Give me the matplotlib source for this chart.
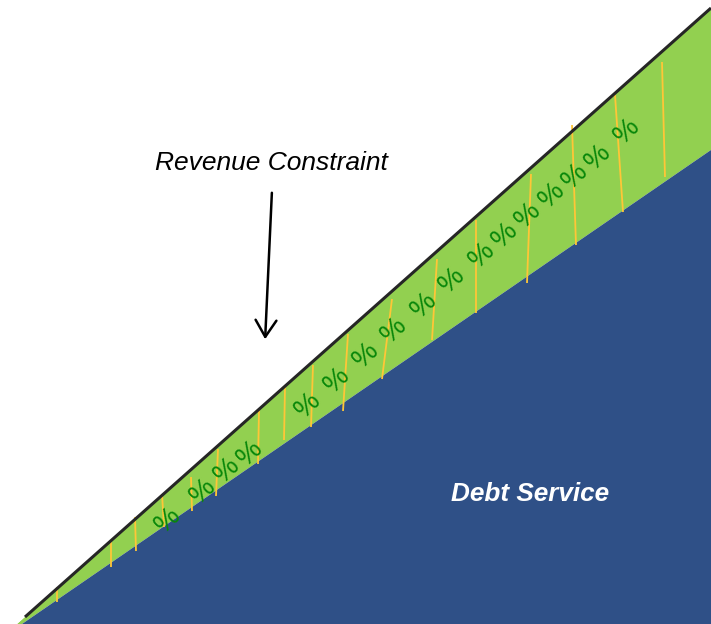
import matplotlib
matplotlib.use("Agg")
import matplotlib.pyplot as plt

plt.rcParams['font.family'] = ['Liberation Sans', 'DejaVu Sans']

W, H = 711, 624

# Revenue constraint line (lower-left to upper-right)
revenue_x = [17, 711]
revenue_y = [0, 616]

# Top edge of the debt service area
debt_x = [22, 711]
debt_y = [0, 474]

# Yellow dividers inside the band: top and bottom end points
div_top_x = [57, 111, 135, 162, 191, 218, 259, 285, 313, 348, 392, 437, 476, 531, 572, 615, 662]
div_top_y = [37, 82, 107, 130, 147, 175, 214, 237, 259, 290, 325, 365, 404, 450, 499, 529, 562]
div_bot_x = [57, 111, 136, 164, 192, 216, 258, 284, 311, 343, 382, 432, 476, 527, 576, 623, 665]
div_bot_y = [22, 57, 73, 97, 113, 128, 160, 184, 197, 213, 245, 284, 311, 341, 379, 412, 447]

# Percent markers along the band
pct_x = [168, 203, 227, 250, 308, 337, 366, 394, 424, 452, 482, 505, 528, 552, 575, 598, 627]
pct_y = [104, 133, 154, 171, 219, 244, 269, 294, 319, 344, 369, 389, 409, 429, 448, 467, 493]

fig = plt.figure(figsize=(W / 100, H / 100), dpi=100)
ax = fig.add_axes([0, 0, 1, 1])
ax.set_xlim(0, W)
ax.set_ylim(0, H)
ax.axis('off')

green = '#92D050'
blue = '#2F5087'

# Green band between the revenue line and the debt service edge
ax.fill([revenue_x[0], revenue_x[1], W, debt_x[1], debt_x[0]],
        [revenue_y[0], revenue_y[1], H, debt_y[1], debt_y[0]],
        color=green, lw=0, zorder=1)
# White area above the revenue line
ax.fill([revenue_x[0], revenue_x[1], W, 0, 0],
        [revenue_y[0], revenue_y[1], H, H, 0],
        color='white', lw=0, zorder=1.5)
# Debt service area
ax.fill([debt_x[0], debt_x[1], W], [debt_y[0], debt_y[1], 0],
        color=blue, lw=0, zorder=2)

# Yellow dividers
for x0, y0, x1, y1 in zip(div_top_x, div_top_y, div_bot_x, div_bot_y):
    ax.plot([x0, x1], [y0, y1], color='#FFC637', lw=1.3, zorder=3,
            solid_capstyle='butt')

# Percent signs
for x, y in zip(pct_x, pct_y):
    ax.text(x, y, '%', color='#08870A', fontsize=20, rotation=44,
            ha='center', va='center', zorder=4)

# Revenue constraint line
ax.plot([25, 711], [7, 616], color='#262626', lw=2.2, zorder=5,
        solid_capstyle='butt')

# Annotation
ax.text(271, H - 163, 'Revenue Constraint', fontsize=19, style='italic',
        ha='center', va='center', color='black', zorder=6)
ax.annotate('', xy=(265, H - 342), xytext=(272, H - 190),
            arrowprops=dict(arrowstyle='->,head_length=1.2,head_width=0.75',
                            color='black', lw=1.8),
            zorder=6)

ax.text(530, H - 494, 'Debt Service', fontsize=18.8, style='italic',
        weight='bold', ha='center', va='center', color='white', zorder=6)

fig.savefig('out.png', dpi=100)
